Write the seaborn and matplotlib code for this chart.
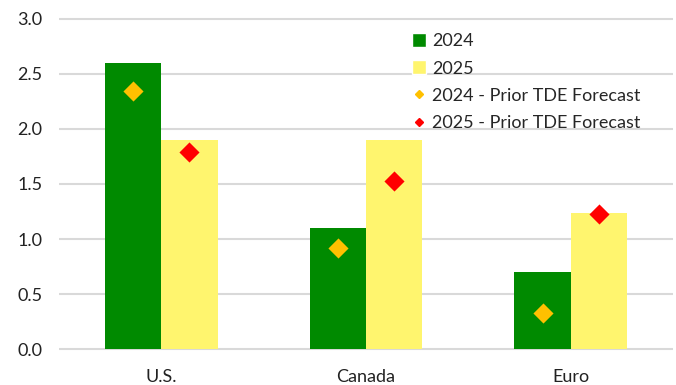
import matplotlib
matplotlib.use("Agg")
import matplotlib.pyplot as plt
import seaborn as sns
import pandas as pd
from matplotlib.patches import Patch
from matplotlib.lines import Line2D

categories = ["U.S.", "Canada", "Euro"]
years = ["2024", "2025"]
actual_2024 = [2.6, 1.1, 0.7]
actual_2025 = [1.9, 1.9, 1.24]
prior_2024 = [2.34, 0.92, 0.33]
prior_2025 = [1.79, 1.53, 1.23]
yticks = [0.0, 0.5, 1.0, 1.5, 2.0, 2.5, 3.0]

bar_colors = {"2024": "#008a00", "2025": "#fff56e"}
marker_colors = {"2024": "#ffc000", "2025": "#ff0000"}

sns.set_theme(style="white")
plt.rcParams["font.family"] = ["Lato", "DejaVu Sans"]

df = pd.DataFrame({
    "Region": categories * 2,
    "Year": [years[0]] * 3 + [years[1]] * 3,
    "Value": actual_2024 + actual_2025,
})

fig = plt.figure(figsize=(6.76, 3.85), dpi=100)
ax = fig.add_axes([59 / 676, 1 - 351 / 385, 614 / 676, (351 - 17) / 385])

sns.barplot(data=df, x="Region", y="Value", hue="Year", order=categories,
            hue_order=years, palette=bar_colors, width=0.55, ax=ax,
            legend=False, saturation=1, errorbar=None, linewidth=0)

# diamonds centred on bars
bars = ax.patches
n = len(categories)
for i, yr in enumerate(years):
    vals = prior_2024 if yr == "2024" else prior_2025
    xs = [bars[i * n + j].get_x() + bars[i * n + j].get_width() / 2 for j in range(n)]
    ax.scatter(xs, vals, marker="D", s=105, color=marker_colors[yr], zorder=5, linewidths=0)

ax.set_ylim(-0.015, 3.015)
ax.set_xlim(-0.5, 2.5)
ax.set_yticks(yticks)
ax.set_yticklabels([f"{v:.1f}" for v in yticks])
ax.yaxis.grid(True, color="#d9d9d9", linewidth=1.5)
ax.set_axisbelow(True)
for s in ax.spines.values():
    s.set_visible(False)
ax.tick_params(axis="both", length=0, labelsize=13, colors="#222222")
ax.tick_params(axis="y", pad=12)
ax.tick_params(axis="x", pad=13)
ax.set_xlabel("")
ax.set_ylabel("")

handles = [
    Patch(facecolor=bar_colors["2024"], label="2024"),
    Patch(facecolor=bar_colors["2025"], label="2025"),
    Line2D([], [], marker="D", color=marker_colors["2024"], linestyle="none",
           markersize=4.0, label="2024 - Prior TDE Forecast"),
    Line2D([], [], marker="D", color=marker_colors["2025"], linestyle="none",
           markersize=4.0, label="2025 - Prior TDE Forecast"),
]
fig.legend(handles=handles, loc="upper left", bbox_to_anchor=(412 / 676, 1 - 33 / 385),
           frameon=False, fontsize=13, handlelength=0.8, handleheight=0.8,
           handletextpad=0.3, labelspacing=0.62, borderaxespad=0, borderpad=0)

fig.savefig("out.png", dpi=100)
